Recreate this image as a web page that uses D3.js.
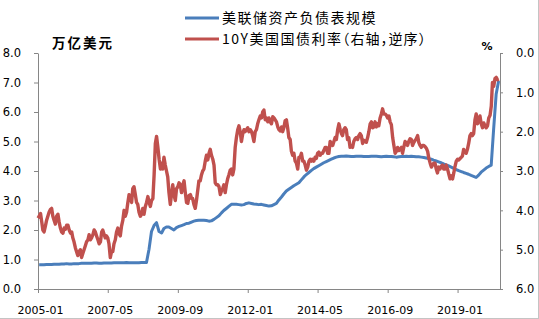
<!DOCTYPE html>
<html>
<head>
<meta charset="utf-8">
<script src="https://cdnjs.cloudflare.com/ajax/libs/d3/7.8.5/d3.min.js"></script>
<style>
  body { margin: 0; background: #fff; }
  text { font-family: "DejaVu Sans", sans-serif; fill: #000; }
  .cjk { font-family: "Noto Sans CJK SC", sans-serif; }
  .axis path, .axis line { stroke: #868686; }
</style>
</head>
<body>
<div id="chart"></div>
<script>
// Fed balance sheet, trillion USD, monthly from 2005-01
var fedBalance = [
  0.82,0.82,0.82,0.83,0.83,0.83,0.84,0.84,0.84,0.85,0.85,0.86,
  0.85,0.85,0.86,0.86,0.86,0.87,0.87,0.87,0.87,0.87,0.88,0.88,
  0.87,0.87,0.88,0.88,0.88,0.88,0.89,0.89,0.89,0.89,0.89,0.90,
  0.89,0.89,0.89,0.89,0.89,0.90,0.90,0.90,1.35,1.95,2.15,2.25,
  1.95,1.90,2.05,2.10,2.10,2.05,2.00,2.08,2.12,2.15,2.18,2.22,
  2.23,2.27,2.30,2.32,2.33,2.33,2.33,2.32,2.30,2.31,2.36,2.42,
  2.48,2.58,2.66,2.73,2.80,2.87,2.87,2.87,2.86,2.85,2.86,2.90,
  2.92,2.90,2.88,2.87,2.86,2.87,2.85,2.83,2.81,2.82,2.86,2.90,
  3.02,3.12,3.22,3.32,3.38,3.44,3.50,3.55,3.60,3.70,3.80,3.88,
  3.95,4.02,4.08,4.13,4.18,4.23,4.28,4.32,4.36,4.40,4.44,4.47,
  4.49,4.50,4.50,4.51,4.50,4.49,4.49,4.50,4.50,4.50,4.49,4.49,
  4.49,4.50,4.50,4.50,4.49,4.48,4.49,4.50,4.49,4.49,4.48,4.47,
  4.48,4.49,4.49,4.50,4.49,4.50,4.49,4.48,4.48,4.47,4.46,4.44,
  4.42,4.40,4.37,4.34,4.31,4.28,4.24,4.21,4.17,4.13,4.09,4.05,
  4.01,3.98,3.95,3.92,3.89,3.85,3.82,3.78,3.86,3.96,4.03,4.10,
  4.15,4.20,5.40,6.60,7.05
];

// 10Y treasury yield, %, two readings a month (1st / 16th) from 2005-01
var yield10y = [
  4.20,4.15,4.08,4.30,4.50,4.55,4.40,4.25,4.15,4.05,3.98,3.95,4.15,4.25,4.35,4.15,4.10,4.30,4.45,4.55,4.58,4.45,4.48,4.38,
  4.38,4.50,4.58,4.55,4.70,4.80,4.95,5.05,5.15,5.05,5.00,5.20,5.10,5.00,4.90,4.80,4.75,4.62,4.75,4.70,4.62,4.50,4.55,4.65,
  4.75,4.85,4.80,4.55,4.50,4.60,4.70,4.65,4.70,4.85,5.20,5.05,5.05,4.85,4.75,4.55,4.45,4.60,4.65,4.40,4.25,4.00,4.15,4.05,
  3.80,3.60,3.65,3.80,3.45,3.40,3.60,3.80,3.85,4.05,4.15,4.10,3.95,4.10,3.90,3.80,3.65,3.80,3.90,3.75,3.70,3.10,2.30,2.12,
  2.40,2.70,2.95,2.80,2.95,2.65,2.85,3.00,3.15,3.55,3.85,3.60,3.35,3.60,3.75,3.45,3.40,3.30,3.35,3.55,3.35,3.25,3.55,3.80,
  3.82,3.62,3.60,3.70,3.70,3.85,3.95,3.75,3.50,3.25,3.25,3.10,3.00,2.95,2.75,2.60,2.72,2.55,2.45,2.60,2.70,2.85,3.30,3.35,
  3.35,3.40,3.60,3.50,3.45,3.35,3.55,3.35,3.20,3.10,2.98,2.95,3.10,2.95,2.40,2.15,1.95,1.85,2.00,2.25,2.05,1.95,2.00,1.95,
  1.90,2.00,1.95,2.00,2.10,2.25,2.00,1.95,1.80,1.70,1.60,1.65,1.50,1.45,1.70,1.65,1.75,1.65,1.75,1.80,1.62,1.65,1.70,1.75,
  1.88,1.95,1.98,1.88,2.00,1.90,1.72,1.70,1.90,2.15,2.20,2.50,2.60,2.55,2.75,2.80,2.95,2.65,2.65,2.55,2.75,2.75,2.85,2.98,
  2.90,2.75,2.70,2.75,2.70,2.75,2.65,2.68,2.55,2.52,2.60,2.55,2.55,2.48,2.40,2.40,2.55,2.55,2.25,2.30,2.35,2.25,2.15,2.20,
  1.95,1.80,1.95,2.05,2.10,1.95,1.90,1.95,2.20,2.15,2.40,2.35,2.40,2.25,2.18,2.15,2.20,2.10,2.05,2.10,2.30,2.22,2.25,2.27,
  2.15,2.00,1.80,1.75,1.90,1.88,1.75,1.88,1.80,1.85,1.65,1.55,1.42,1.55,1.55,1.58,1.65,1.60,1.75,1.82,2.15,2.35,2.55,2.50,
  2.40,2.48,2.45,2.40,2.55,2.40,2.25,2.30,2.35,2.25,2.18,2.20,2.35,2.28,2.22,2.18,2.10,2.28,2.35,2.40,2.35,2.35,2.38,2.42,
  2.50,2.68,2.80,2.90,2.85,2.80,2.80,2.95,3.05,2.90,2.95,2.88,2.85,2.95,2.95,2.85,2.95,3.08,3.20,3.12,3.20,3.05,2.88,2.75,
  2.70,2.72,2.68,2.65,2.62,2.45,2.52,2.55,2.45,2.30,2.10,2.05,2.10,2.05,1.70,1.55,1.80,1.70,1.60,1.80,1.90,1.78,1.85,1.90,
  1.85,1.65,1.58,1.35,0.75,0.85,0.65,0.62,0.68,0.66
];

var xTickLabels = ["2005-01", "2007-05", "2009-09", "2012-01", "2014-05", "2016-09", "2019-01"];
var leftTicks = [0, 1, 2, 3, 4, 5, 6, 7, 8];
var rightTicks = [0, 1, 2, 3, 4, 5, 6];
var seriesNames = ["美联储资产负债表规模", "10Y美国国债利率"];
var seriesNote = "（右轴，逆序）";

var W = 539, H = 319;
var margin = {top: 53, right: 39, bottom: 30, left: 38},
    width = W - margin.left - margin.right,
    height = H - margin.top - margin.bottom;

var parseMonth = d3.timeParse("%Y-%m");

var blueData = fedBalance.map(function(v, i) { return {date: new Date(2005, i, 15), value: v}; });
var redData = yield10y.map(function(v, i) {
  return {date: new Date(2005, Math.floor(i / 2), i % 2 ? 16 : 1), value: v};
});

var x = d3.scaleTime()
  .domain([new Date(2005, 0, 1), new Date(2020, 5, 1)])
  .range([0, width]);
var yLeft = d3.scaleLinear().domain([0, 8]).range([height, 0]);
var yRight = d3.scaleLinear().domain([0, 6]).range([0, height]);  // reversed

var svg = d3.select("#chart").append("svg")
    .attr("width", W)
    .attr("height", H);

// thin frame on right and bottom
svg.append("line").attr("x1", W - 0.5).attr("x2", W - 0.5).attr("y1", 0).attr("y2", H)
  .attr("stroke", "#c4c4c4");
svg.append("line").attr("x1", 0).attr("x2", W).attr("y1", H - 0.5).attr("y2", H - 0.5)
  .attr("stroke", "#c4c4c4");

var g = svg.append("g")
    .attr("transform", "translate(" + margin.left + "," + margin.top + ")");

g.append("g")
  .attr("class", "axis")
  .call(d3.axisLeft(yLeft).tickValues(leftTicks).tickFormat(d3.format(".1f"))
    .tickSize(4).tickSizeOuter(0).tickPadding(13))
  .call(function(a) { a.selectAll("text").style("font-size", "11.5px"); });

g.append("g")
  .attr("class", "axis")
  .attr("transform", "translate(" + width + ",0)")
  .call(d3.axisRight(yRight).tickValues(rightTicks).tickFormat(d3.format(".1f"))
    .tickSize(3).tickSizeOuter(0).tickPadding(13))
  .call(function(a) { a.selectAll("text").style("font-size", "11.5px"); });

g.append("g")
  .attr("class", "axis")
  .attr("transform", "translate(0," + height + ")")
  .call(d3.axisBottom(x).tickValues(xTickLabels.map(parseMonth))
    .tickFormat(d3.timeFormat("%Y-%m")).tickSize(4).tickSizeOuter(0).tickPadding(13))
  .call(function(a) {
    a.selectAll("text").style("font-size", "11px").attr("dx", 2);
  });

var blueLine = d3.line()
  .x(function(d) { return x(d.date); })
  .y(function(d) { return yLeft(d.value); });
var redLine = d3.line()
  .x(function(d) { return x(d.date); })
  .y(function(d) { return yRight(d.value); });

g.append("path").datum(blueData)
  .attr("d", blueLine)
  .attr("fill", "none")
  .attr("stroke", "#4a7ebb")
  .attr("stroke-width", 3)
  .attr("stroke-linejoin", "round");

g.append("path").datum(redData)
  .attr("d", redLine)
  .attr("fill", "none")
  .attr("stroke", "#c0504d")
  .attr("stroke-width", 3.4)
  .attr("stroke-linejoin", "round");

// unit labels
svg.append("text").attr("class", "cjk")
  .attr("x", 52).attr("y", 43).attr("dy", "0.35em")
  .style("font-size", "13.5px").style("font-weight", "bold").style("letter-spacing", "2px")
  .text("万亿美元");
svg.append("text")
  .attr("x", 487).attr("y", 46).attr("dy", "0.35em").attr("text-anchor", "middle")
  .style("font-size", "11px").style("font-weight", "bold")
  .text("%");

// legend
var legendColors = ["#4a7ebb", "#c0504d"];
var legend = svg.selectAll(".legendRow")
  .data(seriesNames)
  .enter().append("g")
  .attr("class", "legendRow")
  .attr("transform", function(d, i) { return "translate(185," + (18 + i * 21) + ")"; });

legend.append("line")
  .attr("x1", 0).attr("x2", 34)
  .attr("stroke", function(d, i) { return legendColors[i]; })
  .attr("stroke-width", 3);

var legendText = legend.append("text").attr("class", "cjk")
  .attr("x", 37).attr("dy", "0.35em")
  .style("font-size", "14px").style("letter-spacing", "1.5px")
  .text(function(d) { return d; });

legendText.filter(function(d, i) { return i === 1; })
  .append("tspan")
  .style("font-feature-settings", "\"halt\"")
  .style("letter-spacing", "1px")
  .text(seriesNote);
</script>
</body>
</html>
